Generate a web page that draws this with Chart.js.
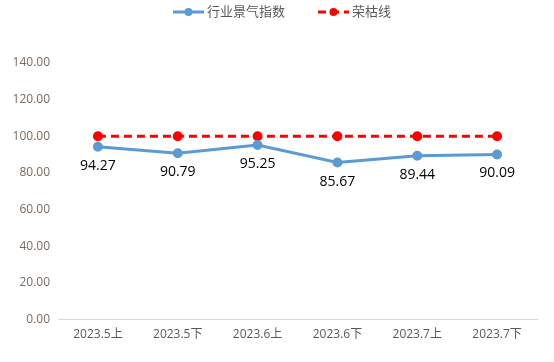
<!DOCTYPE html>
<html>
<head>
<meta charset="utf-8">
<script src="https://cdn.jsdelivr.net/npm/chart.js@4/dist/chart.umd.min.js"></script>
<style>
  html, body { margin: 0; padding: 0; background: #fff; }
  #wrap { width: 554px; height: 362px; }
</style>
</head>
<body>
<div id="wrap"><canvas id="myChart"></canvas></div>
<script>
let periods = ["2023.5上", "2023.5下", "2023.6上", "2023.6下", "2023.7上", "2023.7下"];
let industryIndex = [94.27, 90.79, 95.25, 85.67, 89.44, 90.09];
let boomBust = [100, 100, 100, 100, 100, 100];
let seriesNames = ["行业景气指数", "荣枯线"];

var font = "'Open Sans', 'Noto Sans CJK SC', sans-serif";

// legend drawn by hand so the marker shows line + dot
var topLegend = {
	id: "topLegend",
	afterDraw(chart) {
		var ctx = chart.ctx;
		var items = [
			{ ds: chart.data.datasets[0], x: 173 },
			{ ds: chart.data.datasets[1], x: 318 }
		];
		var y = 12;
		ctx.save();
		items.forEach(function (it) {
			var ds = it.ds;
			ctx.strokeStyle = ds.borderColor;
			ctx.lineWidth = 3;
			ctx.setLineDash(ds.borderDash || []);
			ctx.beginPath();
			ctx.moveTo(it.x, y);
			ctx.lineTo(it.x + 31, y);
			ctx.stroke();
			ctx.setLineDash([]);
			ctx.fillStyle = ds.pointBackgroundColor;
			ctx.beginPath();
			ctx.arc(it.x + 15.5, y, 4, 0, Math.PI * 2);
			ctx.fill();
			ctx.fillStyle = "#595959";
			ctx.font = "13px " + font;
			ctx.textAlign = "left";
			ctx.textBaseline = "middle";
			ctx.fillText(ds.label, it.x + 34, y);
		});
		ctx.restore();
	}
};

// value labels under the index points
var valueLabels = {
	id: "valueLabels",
	afterDatasetsDraw(chart) {
		var ctx = chart.ctx;
		var meta = chart.getDatasetMeta(0);
		ctx.save();
		ctx.fillStyle = "#000";
		ctx.font = "14px " + font;
		ctx.textAlign = "center";
		ctx.textBaseline = "middle";
		meta.data.forEach(function (pt, i) {
			ctx.fillText(industryIndex[i].toFixed(2), pt.x, pt.y + 19);
		});
		ctx.restore();
	}
};

var ctx = document.getElementById("myChart");
var chart = new Chart(ctx, {
	type: "line",
	data: {
		labels: periods,
		datasets: [
			{
				label: seriesNames[0],
				data: industryIndex,
				borderColor: "#5b9bd5",
				backgroundColor: "#5b9bd5",
				pointBackgroundColor: "#5b9bd5",
				pointBorderColor: "#5b9bd5",
				borderWidth: 3,
				pointRadius: 3.5,
				tension: 0
			},
			{
				label: seriesNames[1],
				data: boomBust,
				borderColor: "#ff0000",
				backgroundColor: "#ff0000",
				pointBackgroundColor: "#ff0000",
				pointBorderColor: "#ff0000",
				borderWidth: 3,
				borderDash: [8, 5],
				pointRadius: 3.5,
				tension: 0
			}
		]
	},
	options: {
		responsive: true,
		maintainAspectRatio: false,
		animation: false,
		layout: { padding: { top: 63, right: 17, bottom: 12, left: 0 } },
		plugins: {
			legend: { display: false },
			tooltip: { enabled: false }
		},
		scales: {
			x: {
				offset: true,
				grid: { display: false, drawTicks: false },
				border: { color: "#d9d9d9", width: 1 },
				ticks: { color: "#595959", font: { size: 12, family: font }, padding: 8 }
			},
			y: {
				min: 0,
				max: 140,
				afterFit(scale) { scale.width = 58; },
				grid: { display: false, drawTicks: false },
				border: { display: false },
				ticks: {
					stepSize: 20,
					color: "#7a6a5c",
					padding: 8,
					font: { size: 12, family: font },
					callback: function (v) { return v.toFixed(2); }
				}
			}
		}
	},
	plugins: [topLegend, valueLabels]
});
</script>
</body>
</html>
